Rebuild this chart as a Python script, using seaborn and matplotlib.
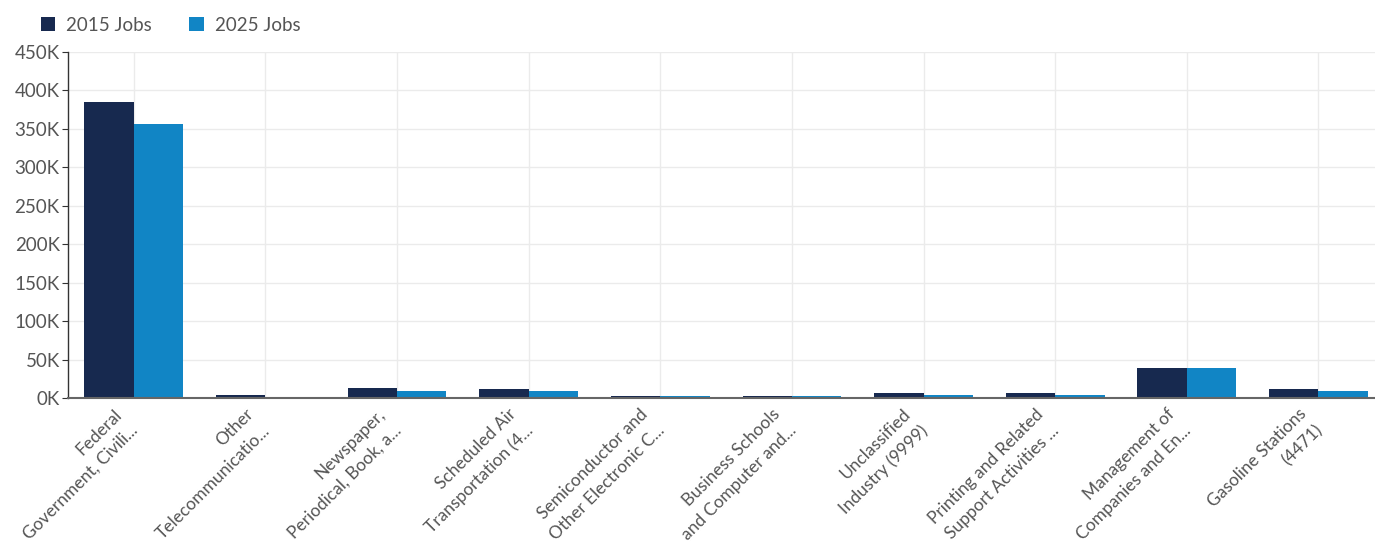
import matplotlib
matplotlib.use('Agg')
import matplotlib.pyplot as plt
import matplotlib.ticker as mticker
from matplotlib.patches import Patch
import pandas as pd
import seaborn as sns

# data
industries = [
    'Federal\nGovernment, Civili...',
    'Other\nTelecommunicatio...',
    'Newspaper,\nPeriodical, Book, a...',
    'Scheduled Air\nTransportation (4...',
    'Semiconductor and\nOther Electronic C...',
    'Business Schools\nand Computer and...',
    'Unclassified\nIndustry (9999)',
    'Printing and Related\nSupport Activities ...',
    'Management of\nCompanies and En...',
    'Gasoline Stations\n(4471)',
]
jobs_2015 = [385000, 4000, 13000, 11300, 2200, 2000, 6000, 6000, 38600, 11300]
jobs_2025 = [356000, 300, 9500, 9500, 2000, 2000, 4500, 4500, 38600, 9500]
series = ['2015 Jobs', '2025 Jobs']
colors = ['#17294f', '#1185c5']

df = pd.DataFrame({
    'Industry': industries * 2,
    'Jobs': jobs_2015 + jobs_2025,
    'Series': [series[0]] * len(industries) + [series[1]] * len(industries),
})

sns.set_style('white')
plt.rcParams['font.family'] = ['Lato', 'DejaVu Sans']

fig = plt.figure(figsize=(13.75, 5.5), dpi=100)
ax = fig.add_axes([68 / 1375, 1 - 398 / 550, (1375 - 68) / 1375, (398 - 52) / 550])

sns.barplot(data=df, x='Industry', y='Jobs', hue='Series', palette=colors,
            width=0.75, ax=ax, legend=False, saturation=1, linewidth=0)

ax.set_xlim(-0.5, 9.43)
ax.set_ylim(0, 450000)
ax.yaxis.set_major_locator(mticker.MultipleLocator(50000))
ax.yaxis.set_major_formatter(mticker.FuncFormatter(lambda v, p: f'{int(v / 1000)}K'))
ax.set_xlabel('')
ax.set_ylabel('')

ax.grid(True, color='#ebebeb', linewidth=1)
ax.set_axisbelow(True)
for s in ['top', 'right']:
    ax.spines[s].set_visible(False)
ax.spines['left'].set_color('#333333')
ax.spines['bottom'].set_color('#666666')
ax.spines['left'].set_linewidth(1)
ax.spines['bottom'].set_linewidth(1.5)

ax.tick_params(axis='y', left=True, length=4, color='#333333', labelsize=13.5, labelcolor='#555555', pad=2)
ax.tick_params(axis='x', bottom=False, labelsize=12.5, labelcolor='#555555', pad=17)
plt.setp(ax.get_xticklabels(), rotation=45, ha='right', va='baseline', rotation_mode='anchor',
         multialignment='right', linespacing=1.55)

handles = [Patch(facecolor=c, edgecolor='none', label=s) for s, c in zip(series, colors)]
fig.legend(handles=handles, loc='upper left', bbox_to_anchor=(24 / 1375, 1.0), ncol=2, frameon=False,
           fontsize=13.5, labelcolor='#555555', handlelength=0.75, handleheight=0.75,
           columnspacing=2.0, handletextpad=0.6)

fig.savefig('out.png', dpi=100)
